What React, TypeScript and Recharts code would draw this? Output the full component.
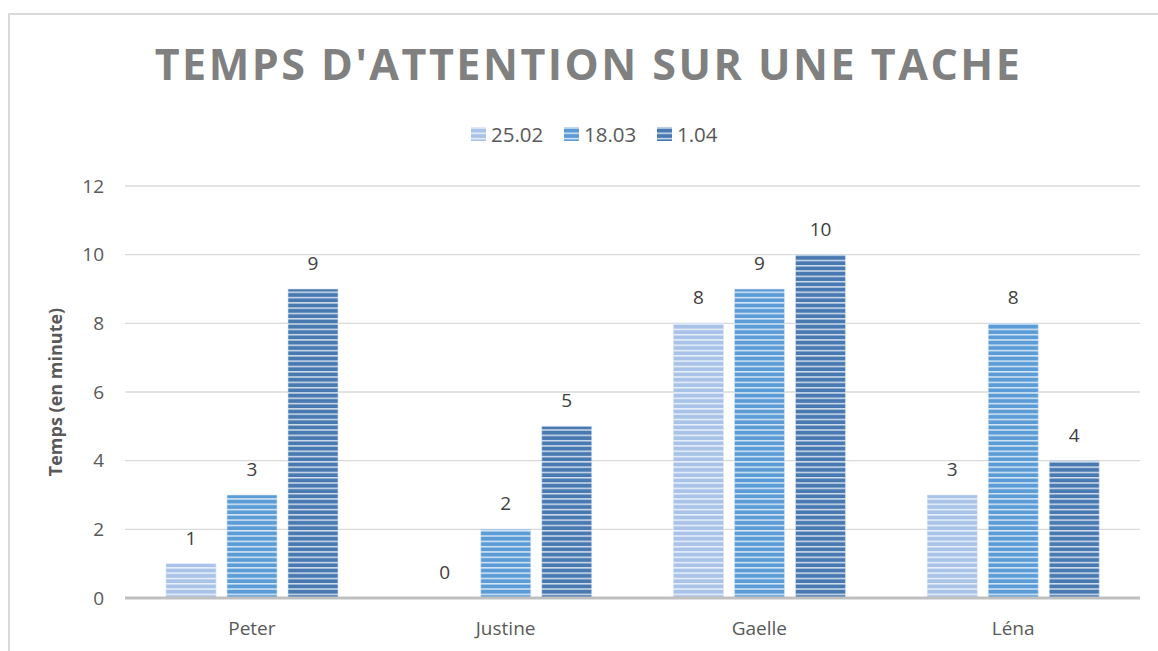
import React from "react";
import { BarChart, Bar, XAxis, YAxis, CartesianGrid, LabelList } from "recharts";

const categories = ["Peter", "Justine", "Gaelle", "Léna"];
const series2502 = [1, 0, 8, 3];
const series1803 = [3, 2, 9, 8];
const series104 = [9, 5, 10, 4];
const seriesNames = ["25.02", "18.03", "1.04"];
const yTicks = [0, 2, 4, 6, 8, 10, 12];

const data = categories.map((c, i) => ({
  name: c,
  s1: series2502[i],
  s2: series1803[i],
  s3: series104[i],
}));

const colors = ["#a8c3e7", "#5b9bd6", "#4879b1"];
const keys = ["s1", "s2", "s3"];

const font = "'Open Sans', 'DejaVu Sans', sans-serif";

export default function App() {
  return (
    <div style={{ position: "relative", width: 1158, height: 651, background: "#fff", fontFamily: font }}>
      <style>{`body{margin:0;overflow:hidden;background:#fff}`}</style>
      <div
        style={{
          position: "absolute",
          left: 8,
          top: 13,
          width: 1150,
          height: 638,
          borderLeft: "2px solid #d9d9d9",
          borderTop: "2px solid #d9d9d9",
          boxSizing: "border-box",
        }}
      />
      <svg width={1158} height={651} style={{ position: "absolute", left: 0, top: 0 }}>
        <defs>
          {colors.map((c, i) => (
            <pattern key={i} id={`pat${i}`} patternUnits="userSpaceOnUse" width={10} height={5.3}>
              <rect x={0} y={0} width={10} height={5.3} fill={c} />
              <rect x={0} y={0} width={10} height={1.5} fill="#ffffff" fillOpacity={0.75} />
            </pattern>
          ))}
        </defs>
      </svg>
      <div style={{ position: "absolute", left: 0, top: 0 }}>
        <BarChart
          width={1158}
          height={651}
          data={data}
          margin={{ top: 186, right: 18, bottom: 0, left: 65 }}
          barSize={50}
          barGap={11}
        >
          <CartesianGrid vertical={false} stroke="#d9d9d9" strokeWidth={1.3} />
          <XAxis
            dataKey="name"
            axisLine={{ stroke: "#bfbfbf", strokeWidth: 3 }}
            tickLine={false}
            tickSize={0}
            tickMargin={24}
            height={53}
            tick={{ fill: "#595959", fontSize: 19, fontFamily: font }}
          />
          <YAxis
            width={60}
            domain={[0, 12]}
            ticks={yTicks}
            axisLine={false}
            tickLine={false}
            tickSize={0}
            tickMargin={21}
            tick={{ fill: "#595959", fontSize: 19, fontFamily: font }}
          />
          {keys.map((k, i) => (
            <Bar
              key={k}
              dataKey={k}
              name={seriesNames[i]}
              fill={`url(#pat${i})`}
              stroke="#d6e4f5"
              strokeOpacity={0.6}
              strokeWidth={1}
              minPointSize={0.5}
              isAnimationActive={false}
            >
              <LabelList
                dataKey={k}
                position="top"
                offset={19}
                fill="#404040"
                fontSize={19}
                fontFamily={font}
              />
            </Bar>
          ))}
        </BarChart>
      </div>
      <svg width={1158} height={651} style={{ position: "absolute", left: 0, top: 0, pointerEvents: "none" }}>
        <text
          x={588.5}
          y={80}
          textAnchor="middle"
          fontSize={43}
          fontWeight={700}
          letterSpacing={2.5}
          fill="#808080"
          fontFamily={font}
        >
          TEMPS D'ATTENTION SUR UNE TACHE
        </text>
        {[471, 564, 657].map((x, i) => (
          <g key={i}>
            <rect x={x} y={127} width={15} height={14} fill={`url(#pat${i})`} />
            <text x={x + 20} y={141.5} fontSize={20.5} fill="#595959" fontFamily={font}>
              {seriesNames[i]}
            </text>
          </g>
        ))}
        <text
          transform="translate(62,392) rotate(-90)"
          textAnchor="middle"
          fontSize={18}
          fontWeight={700}
          fill="#595959"
          fontFamily={font}
        >
          Temps (en minute)
        </text>
      </svg>
    </div>
  );
}
